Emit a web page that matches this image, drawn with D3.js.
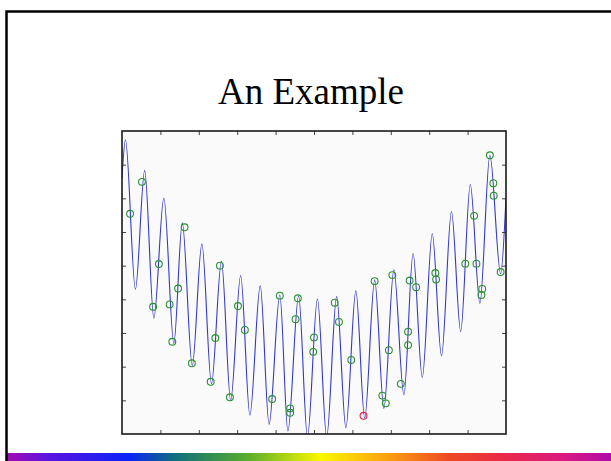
<!DOCTYPE html>
<html>
<head>
<meta charset="utf-8">
<script src="https://d3js.org/d3.v7.min.js"></script>
<style>
  body { margin: 0; background: #fff; }
</style>
</head>
<body>
<div id="my_dataviz"></div>
<script>

  // title of the slide
  const title = "An Example";

  // the blue curve: start, then alternating peaks / troughs, then end (axis units)
  const curveX = [0, 0.09, 0.35, 0.59, 0.83, 1.09, 1.35, 1.57, 1.83, 2.08, 2.33,
                  2.59, 2.83, 3.09, 3.33, 3.60, 3.83, 4.11, 4.32, 4.60, 4.83,
                  5.09, 5.33, 5.59, 5.83, 6.09, 6.32, 6.58, 6.82, 7.08, 7.34,
                  7.58, 7.82, 8.08, 8.32, 8.58, 8.82, 9.07, 9.32, 9.58, 9.86, 10];
  const curveY = [7.60, 8.74, 4.30, 7.83, 3.44, 7.01, 2.69, 6.27, 2.03, 5.65, 1.49,
                  5.13, 0.99, 4.71, 0.56, 4.40, 0.29, 4.13, 0.09, 4.10, -0.09,
                  4.01, -0.09, 4.08, 0.19, 4.25, 0.47, 4.57, 0.76, 4.88, 1.16,
                  5.36, 1.68, 5.95, 2.32, 6.61, 3.04, 7.41, 3.88, 8.28, 4.76, 7.01];

  // green sample circles
  const sampleX = [0.21, 0.52, 0.96, 1.63, 2.55, 0.81, 1.24, 1.46, 1.31, 1.82,
                   2.43, 2.31, 2.81, 3.02, 3.20, 3.91, 4.11, 4.38, 4.38, 4.58,
                   4.52, 5.00, 4.98, 5.54, 5.65, 5.97, 6.58, 6.78, 6.87, 6.95,
                   7.26, 7.45, 7.45, 7.49, 7.66, 8.18, 8.16, 7.04, 9.38, 9.36,
                   8.94, 9.23, 9.17, 9.58, 9.67, 9.68, 9.86];
  const sampleY = [6.54, 7.49, 5.05, 6.14, 5.00, 3.78, 3.85, 4.32, 2.74, 2.10,
                   2.85, 1.55, 1.09, 3.80, 3.09, 1.04, 4.11, 0.76, 0.63, 4.03,
                   3.41, 2.87, 2.44, 3.90, 3.33, 2.20, 4.54, 1.14, 0.91, 2.49,
                   1.49, 3.04, 2.64, 4.56, 4.36, 4.59, 4.78, 4.72, 4.31, 4.13,
                   5.06, 5.06, 6.48, 8.28, 7.45, 7.08, 4.81];

  // the single red circle
  const redX = [6.29];
  const redY = [0.54];

  // tick positions (no labels on this plot)
  const xTicks = [1, 2, 3, 4, 5, 6, 7, 8, 9];
  const yTicks = [1, 2, 3, 4, 5, 6, 7, 8];

  const W = 611, H = 461;
  const margin = {top: 131, left: 122},
      width = 384,
      height = 303;

  const root = d3.select("#my_dataviz")
    .append("svg")
      .attr("width", W)
      .attr("height", H);

  // rainbow strip at the bottom of the slide
  const grad = root.append("defs").append("linearGradient")
      .attr("id", "rainbow");
  [["0%", "#a00cb4"], ["7%", "#5a14e0"], ["20%", "#0a22f8"], ["28%", "#10707a"],
   ["40%", "#5aae2a"], ["52%", "#fbf800"], ["63%", "#fba010"], ["73%", "#ee4a22"],
   ["82%", "#ea2a48"], ["92%", "#da1a80"], ["100%", "#b00ca8"]]
    .forEach(function(s) {
      grad.append("stop").attr("offset", s[0]).attr("stop-color", s[1]);
    });
  root.append("rect")
      .attr("x", 7).attr("y", 453)
      .attr("width", W - 7).attr("height", 8)
      .attr("fill", "url(#rainbow)");

  // slide frame (left and top edges)
  root.append("path")
      .attr("d", `M6.5,${H} V11.5 H${W}`)
      .attr("fill", "none")
      .attr("stroke", "#000")
      .attr("stroke-width", 2.5);

  root.append("text")
      .attr("x", 311)
      .attr("y", 104)
      .attr("text-anchor", "middle")
      .attr("font-family", "'Liberation Serif', 'Times New Roman', serif")
      .attr("font-size", 37)
      .attr("fill", "#000")
      .text(title);

  const svg = root.append("g")
      .attr("transform", `translate(${margin.left}, ${margin.top})`);

  const x = d3.scaleLinear()
    .domain([0, 10])
    .range([0, width]);

  const y = d3.scaleLinear()
    .domain([0, 9])
    .range([height, 0]);

  svg.append("rect")
      .attr("width", width)
      .attr("height", height)
      .attr("fill", "#fafafa");

  svg.append("clipPath").attr("id", "plotclip")
    .append("rect")
      .attr("width", width)
      .attr("height", height);

  // the curve
  svg.append("path")
      .datum(d3.zip(curveX, curveY))
      .attr("clip-path", "url(#plotclip)")
      .attr("fill", "none")
      .attr("stroke", "#3338c4")
      .attr("stroke-width", 1.1)
      .attr("d", d3.line()
          .curve(d3.curveMonotoneX)
          .x(function(d) { return x(d[0]); })
          .y(function(d) { return y(d[1]); })
      );

  svg.selectAll("circle.sample")
    .data(d3.zip(sampleX, sampleY))
    .join("circle")
      .attr("class", "sample")
      .attr("cx", function(d) { return x(d[0]); })
      .attr("cy", function(d) { return y(d[1]); })
      .attr("r", 3.4)
      .attr("fill", "none")
      .attr("stroke", "#28902e")
      .attr("stroke-width", 1.1);

  svg.selectAll("circle.red")
    .data(d3.zip(redX, redY))
    .join("circle")
      .attr("class", "red")
      .attr("cx", function(d) { return x(d[0]); })
      .attr("cy", function(d) { return y(d[1]); })
      .attr("r", 3.4)
      .attr("fill", "none")
      .attr("stroke", "#e2204c")
      .attr("stroke-width", 1.1);

  // inward ticks on all four sides, no labels
  function ticks(axis, tx, ty) {
    const g = svg.append("g")
        .attr("transform", `translate(${tx}, ${ty})`)
        .call(axis.tickSize(-4).tickFormat(""));
    g.select(".domain").remove();
    g.selectAll("line").attr("stroke", "#444");
  }
  ticks(d3.axisBottom(x).tickValues(xTicks), 0, height);
  ticks(d3.axisTop(x).tickValues(xTicks), 0, 0);
  ticks(d3.axisLeft(y).tickValues(yTicks), 0, 0);
  ticks(d3.axisRight(y).tickValues(yTicks), width, 0);

  svg.append("rect")
      .attr("width", width)
      .attr("height", height)
      .attr("fill", "none")
      .attr("stroke", "#1a1a1a")
      .attr("stroke-width", 1.6);

</script>
</body>
</html>
